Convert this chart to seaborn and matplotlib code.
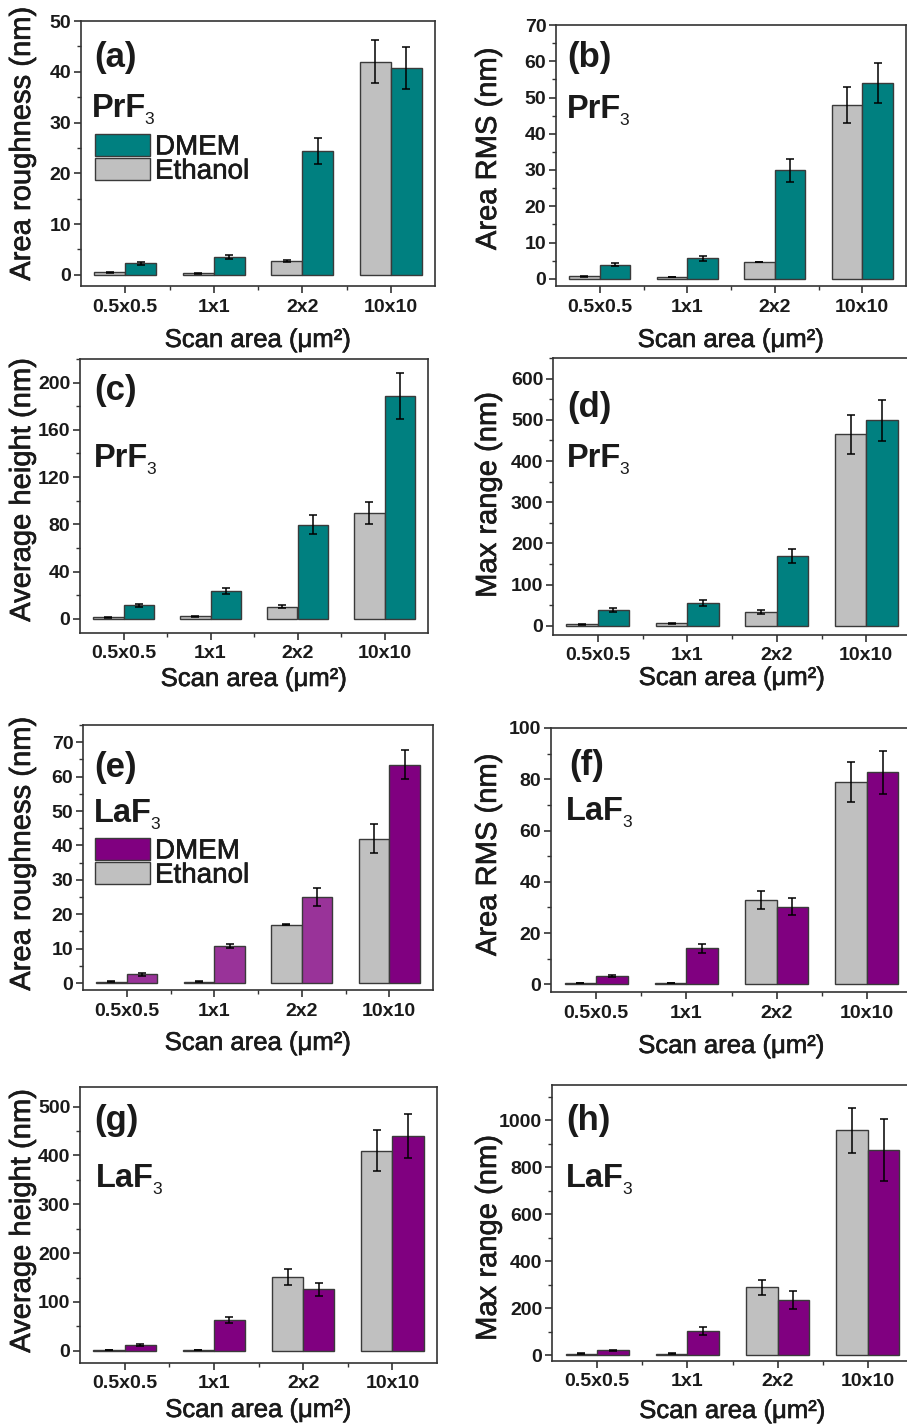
import numpy as np
import pandas as pd
import matplotlib
matplotlib.use("Agg")
import matplotlib.pyplot as plt
import matplotlib.patheffects as pe
from matplotlib.ticker import MultipleLocator, FixedLocator
from matplotlib.patches import Patch
import seaborn as sns

# ---------------- data ----------------
areas = ["0.5x0.5", "1x1", "2x2", "10x10"]
media = ["Ethanol", "DMEM"]

# (a) PrF3 area roughness
a_eth = [0.5, 0.3, 2.75, 42.0]
a_eth_err = [0.1, 0.05, 0.2, 4.2]
a_dmem = [2.3, 3.5, 24.4, 40.7]
a_dmem_err = [0.3, 0.4, 2.5, 4.1]
# (b) PrF3 area RMS
b_eth = [0.7, 0.5, 4.6, 47.9]
b_eth_err = [0.1, 0.1, 0.1, 4.9]
b_dmem = [3.9, 5.6, 29.9, 53.9]
b_dmem_err = [0.45, 0.65, 3.1, 5.5]
# (c) PrF3 average height
c_eth = [1.4, 2.0, 10.4, 89.6]
c_eth_err = [0.3, 0.3, 1.4, 9.0]
c_dmem = [11.5, 23.7, 79.7, 188.7]
c_dmem_err = [1.4, 2.8, 8.2, 19.2]
# (d) PrF3 max range
d_eth = [4.0, 6.5, 34.0, 465.0]
d_eth_err = [0.8, 0.8, 4.5, 47.4]
d_dmem = [38.9, 55.0, 170.0, 499.0]
d_dmem_err = [4.9, 7.3, 17.4, 49.8]
# (e) LaF3 area roughness
e_eth = [0.4, 0.4, 17.0, 42.0]
e_eth_err = [0.1, 0.1, 0.2, 4.3]
e_dmem = [2.6, 10.8, 25.0, 63.5]
e_dmem_err = [0.4, 0.5, 2.7, 4.2]
# (f) LaF3 area RMS
f_eth = [0.5, 0.5, 32.8, 78.9]
f_eth_err = [0.1, 0.1, 3.45, 7.8]
f_dmem = [3.3, 14.1, 30.3, 82.7]
f_dmem_err = [0.3, 1.7, 3.2, 8.3]
# (g) LaF3 average height
g_eth = [1.4, 1.4, 151.4, 410.0]
g_eth_err = [0.3, 0.3, 16.4, 41.4]
g_dmem = [11.0, 63.0, 126.0, 440.4]
g_dmem_err = [2.0, 6.8, 13.4, 45.2]
# (h) LaF3 max range
h_eth = [6.0, 6.0, 289.0, 957.0]
h_eth_err = [1.0, 1.0, 32.0, 96.7]
h_dmem = [20.0, 102.0, 235.0, 873.0]
h_dmem_err = [3.0, 17.0, 37.0, 132.0]

# ---------------- style ----------------
sns.set_style("ticks")
plt.rcParams["font.family"] = ["Liberation Sans", "DejaVu Sans"]

GREY = "#C0C0C0"
TEAL = "#008080"
PURPLE = "#800080"
LPURPLE = "#993399"
EDGE = "#3a3a3a"
SPINE = "#333333"
TXT = "#1a1a1a"
THICK = [pe.withStroke(linewidth=0.45, foreground=TXT)]

W, H = 907, 1427
fig = plt.figure(figsize=(W / 100, H / 100), dpi=100)
renderer = fig.canvas.get_renderer()


def px_axes(l, r, t, b):
    return fig.add_axes([l / W, 1 - b / H, (r - l) / W, (b - t) / H])


panels = [
    dict(eth=a_eth, ee=a_eth_err, dm=a_dmem, de=a_dmem_err, col=TEAL, yl="Area roughness (nm)",
         ylim=(-2.2, 50), maj=10, mi=5, box=(81, 435, 21, 286), let="(a)", comp="PrF",
         let_xy=(94, 67), comp_xy=(92, 117), ylab=(22, 144), xlab_top=328, legend=(95, 134)),
    dict(eth=b_eth, ee=b_eth_err, dm=b_dmem, de=b_dmem_err, col=TEAL, yl="Area RMS (nm)",
         ylim=(-2, 70), maj=10, mi=5, box=(556, 906, 25, 286), let="(b)", comp="PrF",
         let_xy=(567, 67), comp_xy=(567, 118), ylab=(488, 149), xlab_top=328, legend=None),
    dict(eth=c_eth, ee=c_eth_err, dm=c_dmem, de=c_dmem_err, col=TEAL, yl="Average height (nm)",
         ylim=(-12, 220), maj=40, mi=20, box=(80, 428, 359, 633), let="(c)", comp="PrF",
         let_xy=(94, 400), comp_xy=(94, 467), ylab=(22, 490), xlab_top=667, legend=None),
    dict(eth=d_eth, ee=d_eth_err, dm=d_dmem, de=d_dmem_err, col=TEAL, yl="Max range (nm)",
         ylim=(-22, 650), maj=100, mi=50, box=(553, 911, 358, 635), let="(d)", comp="PrF",
         let_xy=(567, 417), comp_xy=(567, 467), ylab=(488, 495), xlab_top=666, legend=None),
    dict(eth=e_eth, ee=e_eth_err, dm=e_dmem, de=e_dmem_err, col=PURPLE, yl="Area roughness (nm)",
         ylim=(-2, 75), maj=10, mi=5, box=(83, 433, 725, 990), let="(e)", comp="LaF",
         let_xy=(94, 777), comp_xy=(94, 822), ylab=(22, 854), xlab_top=1031, legend=(95, 838)),
    dict(eth=f_eth, ee=f_eth_err, dm=f_dmem, de=f_dmem_err, col=PURPLE, yl="Area RMS (nm)",
         ylim=(-3, 100), maj=20, mi=10, box=(551, 912, 728, 992), let="(f)", comp="LaF",
         let_xy=(569, 775), comp_xy=(566, 820), ylab=(488, 855), xlab_top=1034, legend=None),
    dict(eth=g_eth, ee=g_eth_err, dm=g_dmem, de=g_dmem_err, col=PURPLE, yl="Average height (nm)",
         ylim=(-25, 540), maj=100, mi=50, box=(80, 437, 1087, 1363), let="(g)", comp="LaF",
         let_xy=(94, 1130), comp_xy=(96, 1187), ylab=(22, 1221), xlab_top=1398, legend=None),
    dict(eth=h_eth, ee=h_eth_err, dm=h_dmem, de=h_dmem_err, col=PURPLE, yl="Max range (nm)",
         ylim=(-25, 1150), maj=200, mi=100, box=(552, 913, 1085, 1361), let="(h)", comp="LaF",
         let_xy=(566, 1130), comp_xy=(566, 1187), ylab=(488, 1238), xlab_top=1399, legend=None),
]

# per-bar DMEM colours in panel (e) (lighter purple for first three groups)
e_dmem_colors = [LPURPLE, LPURPLE, LPURPLE, PURPLE]

for i, p in enumerate(panels):
    l, r, t, b = p["box"]
    ax = px_axes(l, r, t, b)
    df = pd.DataFrame({
        "area": areas * 2,
        "medium": ["Ethanol"] * 4 + ["DMEM"] * 4,
        "value": list(p["eth"]) + list(p["dm"]),
    })
    sns.barplot(data=df, x="area", y="value", hue="medium", order=areas,
                hue_order=media, palette={"Ethanol": GREY, "DMEM": p["col"]},
                saturation=1, width=0.7, gap=0, edgecolor=EDGE, linewidth=1.0,
                errorbar=None, legend=False, ax=ax)
    if i == 4:
        for bar, c in zip(ax.containers[1], e_dmem_colors):
            bar.set_facecolor(c)
    for cont, errs in zip(ax.containers, [p["ee"], p["de"]]):
        xs = [bar.get_x() + bar.get_width() / 2 for bar in cont]
        ys = [bar.get_height() for bar in cont]
        ax.errorbar(xs, ys, yerr=errs, fmt="none", ecolor="black",
                    elinewidth=1.1, capsize=3, capthick=1.1, zorder=5)

    ax.set_xlim(-0.5, 3.5)
    ax.set_ylim(*p["ylim"])
    ax.yaxis.set_major_locator(MultipleLocator(p["maj"]))
    ax.yaxis.set_minor_locator(MultipleLocator(p["mi"]))
    ax.xaxis.set_minor_locator(FixedLocator([0.5, 1.5, 2.5]))
    for s in ax.spines.values():
        s.set_visible(True)
        s.set_linewidth(1.2)
        s.set_color(SPINE)
    ax.tick_params(axis="both", which="major", direction="out", length=5, width=1.2,
                   color=SPINE, labelsize=14, labelcolor=TXT)
    ax.tick_params(axis="both", which="minor", direction="out", length=3, width=1.0,
                   color=SPINE)
    ax.tick_params(axis="y", pad=2)
    ax.tick_params(axis="x", pad=4)
    ax.set_xticks(range(len(areas)))
    ax.set_xticklabels(areas)
    plt.setp(ax.get_xticklabels(), fontweight="bold")
    plt.setp(ax.get_yticklabels(), fontweight="bold")

    ax.set_xlabel("Scan area (μm²)", fontsize=18.5, color=TXT, path_effects=THICK)
    ax.xaxis.set_label_coords((l + r) / 2 / W, 1 - p["xlab_top"] / H, transform=fig.transFigure)
    ax.set_ylabel(p["yl"], fontsize=21, va="center", color=TXT, path_effects=THICK)
    ax.yaxis.set_label_coords(p["ylab"][0] / W, 1 - p["ylab"][1] / H, transform=fig.transFigure)

    fig.text(p["let_xy"][0] / W, 1 - p["let_xy"][1] / H, p["let"], fontsize=25,
             fontweight="bold", va="baseline", ha="left", color=TXT)
    comp = fig.text(p["comp_xy"][0] / W, 1 - p["comp_xy"][1] / H, p["comp"], fontsize=23.5,
                    fontweight="bold", va="baseline", ha="left", color=TXT)
    ext = comp.get_window_extent(renderer)
    fig.text((ext.x1 - 2) / W, 1 - (p["comp_xy"][1] + 7) / H, "3", fontsize=12.5,
             va="baseline", ha="left", color=TXT)

    if p["legend"] is not None:
        handles = [Patch(facecolor=p["col"], edgecolor=EDGE, linewidth=1.0),
                   Patch(facecolor=GREY, edgecolor=EDGE, linewidth=1.0)]
        leg = ax.legend(handles, ["DMEM", "Ethanol"], loc="upper left",
                        bbox_to_anchor=(p["legend"][0] / W, 1 - p["legend"][1] / H),
                        bbox_transform=fig.transFigure, frameon=False, fontsize=20,
                        handlelength=1.98, handleheight=0.82, handletextpad=0.18,
                        labelspacing=-0.08, borderpad=0, borderaxespad=0)
        for txt in leg.get_texts():
            txt.set_color(TXT)
            txt.set_path_effects(THICK)

fig.savefig("out.png", dpi=100)
